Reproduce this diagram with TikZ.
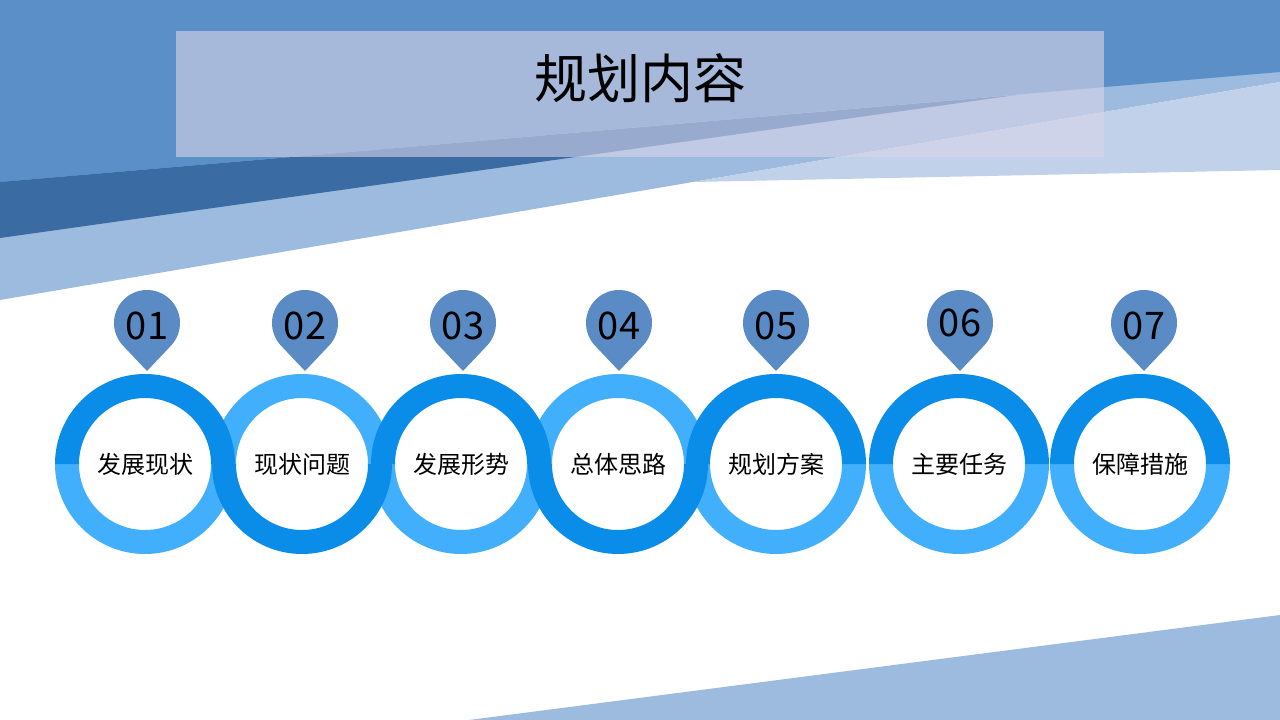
\documentclass[tikz,border=0pt]{standalone}
\usepackage{fontspec}
\setmainfont{Noto Sans CJK SC}
\usetikzlibrary{calc}
\definecolor{bgblue}{HTML}{5B8FC8}
\definecolor{bgdark}{HTML}{3A6BA3}
\definecolor{bglight}{HTML}{9DBBDE}
\definecolor{bgpale}{HTML}{C1D1E9}
\definecolor{boxfill}{HTML}{D8D5E9}
\definecolor{ringdark}{HTML}{0A8CE9}
\definecolor{ringlight}{HTML}{42AFFD}
\definecolor{pinblue}{HTML}{5B8BC5}
\tikzset{
  tophalf/.style={insert path={++(-90,0) arc[start angle=180,end angle=360,radius=90] -- ++(-24,0) arc[start angle=0,end angle=-180,radius=66] -- cycle}},
  bothalf/.style={insert path={++(-90,0) arc[start angle=180,end angle=0,radius=90] -- ++(-24,0) arc[start angle=0,end angle=180,radius=66] -- cycle}},
  drop/.style={insert path={++(0,48) -- ++(23.98,-25.33) arc[start angle=43.4,end angle=-223.4,radius=33] -- cycle}},
  ringtext/.style={font=\fontsize{24}{28}\selectfont},
  numtext/.style={font=\fontsize{38}{44}\selectfont}
}
\begin{document}
\begin{tikzpicture}[x=1pt,y=-1pt]
  \useasboundingbox (0,0) rectangle (1280,720);
  \fill[white] (0,0) rectangle (1280,720);
% background
\fill[bglight] (0,0) -- (1280,0) -- (1280,82) -- (0,300) -- cycle;
\fill[bgpale] (693,182) -- (1280,82) -- (1280,170) -- cycle;
\fill[bgblue] (0,0) -- (1280,0) -- (1280,72) -- (0,182) -- cycle;
\fill[bgdark] (0,182) -- (1016,95) -- (0,238) -- cycle;
\fill[bglight] (469,720) -- (1280,615) -- (1280,720) -- cycle;
\fill[boxfill,fill opacity=0.6] (176,31) rectangle (1104,157);
\node (title) at (640,78) {\fontsize{53}{62}\selectfont 规划内容};
  \coordinate (r1) at (145,464);
\coordinate (r2) at (302,464);
\coordinate (r3) at (461,464);
\coordinate (r4) at (618,464);
\coordinate (r5) at (776,464);
\coordinate (r6) at (959,464);
\coordinate (r7) at (1140,464);
% light halves under the dark ones
\fill[ringlight] (r1) [bothalf];
\fill[ringlight] (r2) [tophalf];
\fill[ringlight] (r3) [bothalf];
\fill[ringlight] (r4) [tophalf];
\fill[ringlight] (r5) [bothalf];
\fill[ringlight] (r6) [bothalf];
\fill[ringlight] (r7) [bothalf];
\fill[ringdark] (r1) [tophalf];
\fill[ringdark] (r2) [bothalf];
\fill[ringdark] (r3) [tophalf];
\fill[ringdark] (r4) [bothalf];
\fill[ringdark] (r5) [tophalf];
\fill[ringdark] (r6) [tophalf];
\fill[ringdark] (r7) [tophalf];
\node[ringtext] (l1) at (r1) {发展现状};
\node[ringtext] (l2) at (r2) {现状问题};
\node[ringtext] (l3) at (r3) {发展形势};
\node[ringtext] (l4) at (r4) {总体思路};
\node[ringtext] (l5) at (r5) {规划方案};
\node[ringtext] (l6) at (r6) {主要任务};
\node[ringtext] (l7) at (r7) {保障措施};
% pins
\coordinate (p1) at (147,323);
\coordinate (p2) at (305,323);
\coordinate (p3) at (463,323);
\coordinate (p4) at (619,323);
\coordinate (p5) at (776,323);
\coordinate (p6) at (960,323);
\coordinate (p7) at (1144,323);
\fill[pinblue] (p1) [drop];
\fill[pinblue] (p2) [drop];
\fill[pinblue] (p3) [drop];
\fill[pinblue] (p4) [drop];
\fill[pinblue] (p5) [drop];
\fill[pinblue] (p6) [drop];
\fill[pinblue] (p7) [drop];
\node[numtext] (n1) at ([yshift=-3pt]p1) {01};
\node[numtext] (n2) at ([yshift=-3pt]p2) {02};
\node[numtext] (n3) at ([yshift=-3pt]p3) {03};
\node[numtext] (n4) at ([yshift=-3pt]p4) {04};
\node[numtext] (n5) at ([yshift=-3pt]p5) {05};
\node[numtext] (n6) at (p6) {06};
\node[numtext] (n7) at ([yshift=-3pt]p7) {07};
%\draw[red] (0,0) rectangle (1280,720);
\end{tikzpicture}
\end{document}
